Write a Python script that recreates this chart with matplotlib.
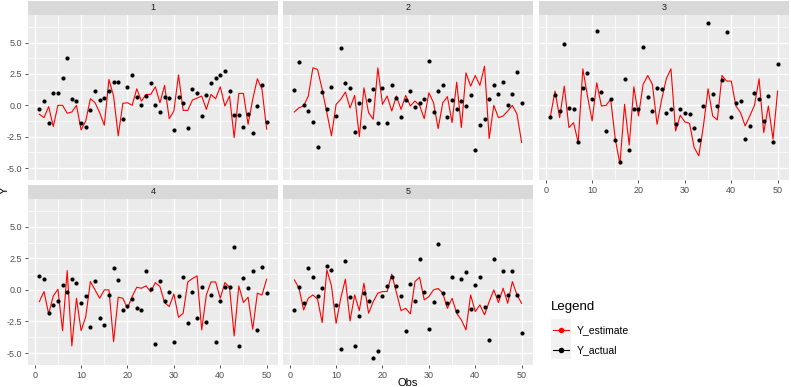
import numpy as np
import matplotlib
matplotlib.use("Agg")
import matplotlib.pyplot as plt
from matplotlib.lines import Line2D
from matplotlib.patches import Rectangle
from matplotlib.ticker import MultipleLocator

plt.rcParams['font.family'] = ['Liberation Sans', 'DejaVu Sans']

# ---- data (obs 1..50 per panel) ----
obs = np.arange(1, 51)
panels = ['1', '2', '3', '4', '5']

act1 = [-0.32, 0.32, -1.38, 0.95, 0.95, 2.14, 3.76, 0.53, 0.37, -1.38,
        -1.75, -0.37, 1.11, 0.42, 0.58, 1.11, 1.9, 1.9, -1.11, 1.46,
        2.38, 0.69, 0.0, 0.74, 1.75, 0.0, -0.53, 0.66, 0.61, -1.96,
        0.66, 0.21, -1.8, 1.27, 1.0, -0.87, 0.79, 1.75, 2.2, 2.38,
        2.7, 1.16, -0.79, -0.79, -1.69, -0.71, -2.17, -0.03, 1.64, -1.3]
est1 = [-0.71, -0.98, -0.1, -1.69, 0.0, 0.0, -0.63, -0.53, 0.0, -1.96,
        -1.24, 0.53, 0.21, -0.58, -1.59, 2.06, 0.74, -2.43, 0.16, 0.21,
        0.0, 1.32, 0.34, 0.87, 0.87, 1.48, 0.21, 1.59, -1.06, -0.45,
        2.43, -0.4, -0.4, 0.42, 0.58, 0.74, -0.32, 0.87, 0.53, 1.48,
        -0.05, 0.74, -2.57, 0.95, 0.95, -1.51, 0.48, 2.12, 1.27, -1.9]

act2 = [1.22, 3.44, 0.05, -0.42, -1.32, -3.33, 1.06, -0.32, 1.46, -0.82,
        4.58, 1.8, 1.4, -2.12, 0.21, -1.75, 0.42, 1.32, -1.38, 1.35,
        -1.43, 1.59, 0.61, -0.9, 0.4, 1.14, -0.13, 0.21, 0.48, 3.57,
        -0.53, 1.11, 1.59, -0.9, 0.4, -0.32, 0.32, -0.05, 0.79, -3.54,
        -1.59, -1.06, 0.53, 1.64, 0.87, 1.9, 0.0, 0.87, 2.65, 0.16]
est2 = [-0.53, -0.19, -0.05, 0.74, 2.99, 2.86, 1.27, -0.58, -2.43, 0.08,
        0.48, 1.06, -0.21, 0.79, -2.49, 1.4, -0.58, -1.11, 2.99, 0.08,
        0.74, -0.45, 0.74, -0.32, 0.79, -0.05, 0.34, 0.0, -1.06, 1.0,
        0.21, -1.85, 0.21, 0.69, -1.38, 1.85, -1.77, 2.59, 1.53, 2.38,
        1.59, 3.12, -2.65, 0.0, -0.98, -0.85, -0.45, 0.0, -0.71, -2.96]

act3 = [-0.95, 0.79, -0.42, 4.87, -0.19, -0.32, -2.96, 1.38, 2.59, 0.53,
        5.95, 1.06, -2.06, 0.53, -2.75, -4.52, 2.06, -3.57, -0.32, -0.32,
        4.68, 0.66, -0.48, 1.38, 1.27, -0.58, -0.32, -1.48, -0.26, -0.63,
        -0.69, -1.8, -2.8, -0.05, 6.59, 0.9, -0.05, 2.01, 5.82, -0.95,
        0.21, 0.32, -2.65, -1.64, 0.95, 0.53, -1.22, 0.71, -2.96, 3.28]
est3 = [-0.9, 1.14, -0.98, 1.53, -1.77, -1.38, -2.96, 2.91, 0.74, -1.24,
        1.8, -0.05, 0.0, 0.48, -2.7, -4.68, 0.08, -3.17, 1.48, -0.85,
        1.67, 2.38, 1.67, -1.51, 0.48, 2.12, 2.91, -2.04, -0.79, -1.32,
        -1.43, -3.36, -4.02, -1.64, 1.32, -0.85, -1.16, 2.38, 1.93, 1.93,
        -0.05, -0.58, -1.64, -0.85, 0.0, 2.12, -2.17, -0.05, -2.7, 1.14]

act4 = [1.11, 0.85, -1.85, -1.16, -0.85, 0.42, -0.19, 0.9, 0.53, -1.0,
        -0.48, -2.91, 0.74, -2.22, -2.75, -0.42, 1.77, 0.77, -1.59, -1.27,
        -0.74, -1.43, -1.59, 1.46, 0.05, -4.31, 0.69, -0.9, -0.19, -4.1,
        -0.48, 1.06, -2.65, -0.13, -2.2, 0.24, -2.54, -0.42, -4.1, -0.85,
        0.19, 0.19, 3.39, -4.47, 0.98, 0.13, 1.53, -3.2, 1.85, -0.21]
est4 = [-0.93, -0.13, -1.9, -0.48, 0.05, -3.23, 1.53, -4.44, -0.66, -3.23,
        -2.12, 0.66, 0.0, -0.66, 0.0, 0.0, -4.1, -0.58, -0.66, -1.46,
        -0.53, 0.21, 0.13, 0.32, -0.16, 0.58, 0.26, -1.0, -1.32, -0.32,
        -2.17, -1.85, 0.63, 0.9, 1.11, -3.17, -0.4, 0.63, 0.63, -0.66,
        0.58, 0.21, -3.65, 0.32, -1.0, -0.58, -3.12, -0.26, -0.4, 0.85]

act5 = [-1.59, 0.19, -1.0, 1.75, 1.01, -0.48, 0.13, 1.9, 1.56, -1.22,
        -4.68, 2.3, -0.53, -4.47, -2.06, -0.21, -0.85, -5.37, -4.81, -0.48,
        0.32, 1.06, 0.32, -0.5, -3.28, 0.45, -0.85, 2.46, -0.19, -3.1,
        -0.95, 3.6, -0.26, -1.06, 1.0, -1.67, 0.87, 1.43, -1.51, 0.42,
        1.0, -1.32, -3.94, 2.46, -0.48, 1.48, -0.37, 1.53, -0.42, -3.44]
est5 = [0.79, 0.13, -1.59, -0.66, -0.4, -0.74, -2.59, 1.59, 0.32, -2.65,
        -0.66, 0.85, -2.46, -0.4, -1.64, 0.53, -1.85, -0.93, -0.26, -0.13,
        -0.13, 1.25, -0.2, -1.64, -1.46, -1.9, 0.66, 1.0, -0.79, -0.53,
        0.0, 0.11, -0.26, -1.46, -0.66, -1.85, -2.38, -3.17, -0.4, -1.72,
        -1.19, -1.98, -0.93, 0.0, -1.0, 0.13, -1.06, 0.66, -0.4, -1.06]

actual = [act1, act2, act3, act4, act5]
estimate = [est1, est2, est3, est4, est5]

W, H = 791, 387
GREY_TXT = '#4D4D4D'


def px_box(left, top, right, bottom):
    """pixel box -> figure fraction [l, b, w, h]"""
    return [left / W, 1 - bottom / H, (right - left) / W, (bottom - top) / H]


fig = plt.figure(figsize=(W / 100, H / 100), dpi=100)

# panel boxes in pixels (left, top, right, bottom)
boxes = [(28, 15, 278, 180), (283, 15, 533, 180), (539, 15, 789, 180),
         (28, 199, 278, 365), (283, 199, 533, 365)]
strip_h = 14
show_x = [False, False, True, True, True]
show_y = [True, False, False, True, False]

for i, (l, t, r, b) in enumerate(boxes):
    ax = fig.add_axes(px_box(l, t, r, b))
    ax.set_facecolor('#EBEBEB')
    for s in ax.spines.values():
        s.set_visible(False)
    ax.set_xlim(-1.45, 52.45)
    ax.set_ylim(-5.95, 7.2)
    ax.xaxis.set_major_locator(MultipleLocator(10))
    ax.xaxis.set_minor_locator(MultipleLocator(5))
    ax.yaxis.set_major_locator(MultipleLocator(2.5))
    ax.yaxis.set_minor_locator(MultipleLocator(1.25))
    ax.grid(which='major', color='white', linewidth=1.0)
    ax.grid(which='minor', color='white', linewidth=0.5)
    ax.set_axisbelow(True)

    ax.plot(obs, estimate[i], color='#FF0000', linewidth=0.8, zorder=3)
    ax.scatter(obs, actual[i], s=9, color='black', zorder=4, linewidths=0)

    ax.tick_params(which='minor', length=0)
    ax.tick_params(which='major', length=2.5, width=0.6, color='#333333',
                   labelsize=6.5, labelcolor=GREY_TXT, pad=1.5)
    if show_x[i]:
        ax.set_xticks([0, 10, 20, 30, 40, 50])
    else:
        ax.tick_params(axis='x', length=0, labelbottom=False)
    if show_y[i]:
        ax.set_yticks([-5, -2.5, 0, 2.5, 5])
        ax.set_yticklabels(['-5.0', '-2.5', '0.0', '2.5', '5.0'])
    else:
        ax.tick_params(axis='y', length=0, labelleft=False)

    # facet strip
    sax = fig.add_axes(px_box(l, t - strip_h, r, t))
    sax.set_facecolor('#D9D9D9')
    sax.set_xticks([])
    sax.set_yticks([])
    for s in sax.spines.values():
        s.set_visible(False)
    sax.text(0.5, 0.5, panels[i], ha='center', va='center',
             fontsize=6.5, color='#1A1A1A', transform=sax.transAxes)

# axis titles
fig.text(408 / W, 1 - 383 / H, 'Obs', ha='center', va='center', fontsize=8, color='black')
fig.text(5 / W, 1 - 190 / H, 'Y', ha='center', va='center', fontsize=8,
         rotation=90, color='black')

# legend drawn by hand, ggplot style
fig.text(551 / W, 1 - 307 / H, 'Legend', ha='left', va='center', fontsize=9.5, color='black')
fig.patches.append(Rectangle((551 / W, 1 - 359 / H), 20 / W, 40 / H,
                             transform=fig.transFigure, facecolor='#F2F2F2',
                             edgecolor='none'))
for y_px, col, lab in [(330, '#FF0000', 'Y_estimate'), (350, 'black', 'Y_actual')]:
    yy = 1 - y_px / H
    fig.add_artist(Line2D([553 / W, 569 / W], [yy, yy], color=col, linewidth=0.8,
                          transform=fig.transFigure))
    fig.add_artist(Line2D([561 / W], [yy], color=col, marker='o', markersize=3,
                          linestyle='none', transform=fig.transFigure))
    fig.text(577 / W, yy, lab, ha='left', va='center', fontsize=7.5, color='black')

fig.savefig('out.png', dpi=100)
